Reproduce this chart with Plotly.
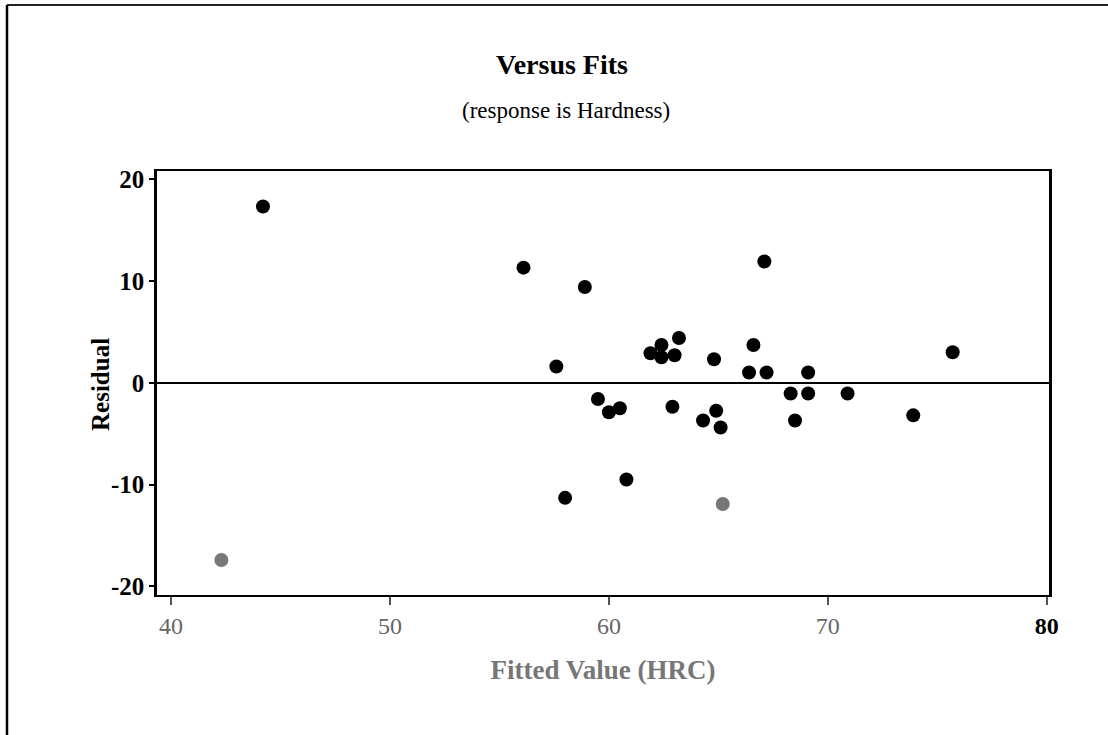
import plotly.graph_objects as go

# Data (Fitted value vs residual)
fitted = [44.2, 56.1, 58.9, 57.6, 59.5, 58.0, 42.3, 67.1, 62.4, 63.2,
          61.9, 62.4, 63.0, 64.8, 66.6, 66.4, 67.2, 69.1, 75.7, 60.0,
          60.5, 62.9, 64.9, 64.3, 65.1, 68.3, 69.1, 70.9, 68.5, 73.9,
          60.8, 65.2]
residual = [17.3, 11.3, 9.4, 1.6, -1.6, -11.3, -17.4, 11.9, 3.7, 4.4,
            2.9, 2.5, 2.7, 2.3, 3.7, 1.0, 1.0, 1.0, 3.0, -2.9,
            -2.5, -2.35, -2.75, -3.7, -4.4, -1.05, -1.05, -1.05, -3.7, -3.2,
            -9.5, -11.9]
x_ticks = [40, 50, 60, 70, 80]
y_ticks = [-20, -10, 0, 10, 20]

W, H = 1108, 735
L, R, T, B = 157, 1049, 171, 595

colors = ["#777777" if r < -11.5 else "black" for r in residual]

fig = go.Figure()
fig.add_trace(go.Scatter(
    x=fitted, y=residual, mode="markers",
    marker=dict(color=colors, size=14, line=dict(width=0)),
    showlegend=False, hoverinfo="x+y",
))

font_family = "Liberation Serif, Times New Roman, serif"

fig.update_layout(
    width=W, height=H,
    margin=dict(l=L, r=W - R, t=T, b=H - B, pad=0),
    paper_bgcolor="white", plot_bgcolor="white",
    font=dict(family=font_family, color="black"),
    xaxis=dict(
        range=[39.36, 80.1], tickvals=x_ticks,
        ticktext=["%d" % v if v != 80 else "<span style='color:black'><b>%d</b></span>" % v for v in x_ticks],
        showgrid=False, zeroline=False,
        showline=True, linecolor="black", linewidth=2, mirror=True,
        ticks="outside", ticklen=8, tickwidth=1.5, tickcolor="#555555",
        tickfont=dict(size=24, family=font_family, color="#666666"),
        title=dict(text="<b>Fitted Value (HRC)</b>", standoff=22,
                   font=dict(size=27, family=font_family, color="#777777")),
    ),
    yaxis=dict(
        range=[-20.84, 20.79], tickvals=y_ticks,
        ticktext=["<b>%d</b>" % v for v in y_ticks],
        showgrid=False, zeroline=True, zerolinecolor="black", zerolinewidth=2,
        showline=True, linecolor="black", linewidth=2.5, mirror=True,
        ticks="outside", ticklen=5, tickwidth=1.5, tickcolor="black",
        tickfont=dict(size=25, family=font_family, color="black"),
    ),
    title=dict(text="<b>Versus Fits</b>", x=562 / W, xanchor="center",
               y=1 - 64 / H, yanchor="middle",
               font=dict(size=28, family=font_family, color="black")),
)

pw, ph = R - L, B - T
def px(v):
    return (v - L) / pw
def py(v):
    return (B - v) / ph

fig.add_annotation(
    text="(response is Hardness)", xref="paper", yref="paper",
    x=px(566), y=py(110), xanchor="center", yanchor="middle",
    showarrow=False, font=dict(size=23, family=font_family, color="black"),
)

# Y-axis title
fig.add_annotation(
    text="<b>Residual</b>", xref="paper", yref="paper",
    x=px(100), y=py(385), xanchor="center", yanchor="middle",
    textangle=-90, showarrow=False,
    font=dict(size=25, family=font_family, color="black"),
)

# Outer page frame (top and left edges, as in the scan)
fig.add_shape(type="line", xref="paper", yref="paper",
              x0=px(7), x1=px(W + 2), y0=py(5), y1=py(5),
              line=dict(color="#222222", width=2))
fig.add_shape(type="line", xref="paper", yref="paper",
              x0=px(7), x1=px(7), y0=py(5), y1=py(H + 2),
              line=dict(color="black", width=2.5))

fig.write_html("out.html")
